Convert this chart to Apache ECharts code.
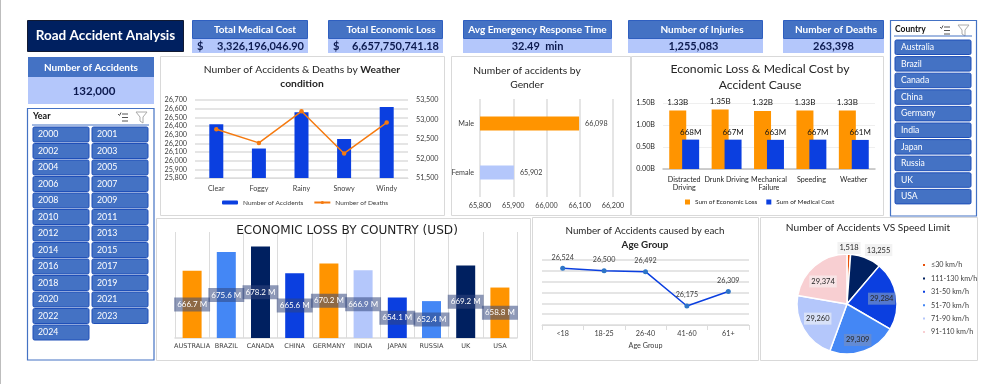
<!DOCTYPE html>
<html><head><meta charset="utf-8">
<style>html,body{margin:0;padding:0;background:#fff}#c{width:1000px;height:384px}</style>
<script src="https://cdn.jsdelivr.net/npm/echarts@6/dist/echarts.min.js"></script>
</head><body><div id="c"></div>
<script>
// ---- data ----
const dashboardTitle = 'Road Accident Analysis';
const kpiLabels = ['Total Medical Cost','Total Economic Loss','Avg Emergency Response Time','Number of Injuries','Number of Deaths'];
const kpiValues = ['3,326,196,046.90','6,657,750,741.18','32.49  min','1,255,083','263,398'];
const accidentsTotal = '132,000';
const years = ['2000','2001','2002','2003','2004','2005','2006','2007','2008','2009','2010','2011','2012','2013','2014','2015','2016','2017','2018','2019','2020','2021','2022','2023','2024'];
const countries = ['Australia','Brazil','Canada','China','Germany','India','Japan','Russia','UK','USA'];
const weatherCats = ['Clear','Foggy','Rainy','Snowy','Windy'];
const weatherAccidents = [26420,26140,26560,26250,26620];
const weatherDeaths = [52750,52400,53210,52130,52920];
const genderCats = ['Female','Male'];
const genderValues = [65902,66098];
const causeCats = ['Distracted\nDriving','Drunk Driving','Mechanical\nFailure','Speeding','Weather'];
const causeEconomic = [1.33e9,1.35e9,1.32e9,1.33e9,1.33e9];
const causeMedical = [668e6,667e6,663e6,667e6,661e6];
const countryCats = ['AUSTRALIA','BRAZIL','CANADA','CHINA','GERMANY','INDIA','JAPAN','RUSSIA','UK','USA'];
const countryLoss = [666.7,675.6,678.2,665.6,670.2,666.9,654.1,652.4,669.2,658.8];
const ageCats = ['<18','18-25','26-40','41-60','61+'];
const ageValues = [26524,26500,26492,26175,26309];
const speedCats = ['≤30 km/h','111-130 km/h','31-50 km/h','51-70 km/h','71-90 km/h','91-110 km/h'];
const speedValues = [1518,13255,29284,29309,29260,29374];

// ---- style ----
const NAVY='#002060',BLUE='#0b3fe0',MID='#4487f5',LIGHT='#b4c7fb',ORANGE='#ff9400',PINK='#f8cfd2';
const HEAD='#4472c4',BTN='#4472c4',BTNB='#1f4fb8',GRID='#dcdcdc',TXT='#404040',F='Lato';
const countryColors=[ORANGE,MID,NAVY,BLUE,ORANGE,LIGHT,BLUE,MID,NAVY,ORANGE];
const speedColors=['#e8500a',NAVY,BLUE,MID,LIGHT,PINK];

const g=[];
const rect=(x,y,w,h,fill,stroke,lw,r)=>g.push({type:'rect',z:0,shape:{x,y,width:w,height:h,r:r||0},style:{fill:fill||'transparent',stroke:stroke||null,lineWidth:lw||1}});
const text=(x,y,s,o)=>g.push({type:'text',z:1,x,y,style:Object.assign({text:s,fontFamily:F,fontSize:11,fill:TXT,align:'center',verticalAlign:'middle'},o||{})});
const line=(x1,y1,x2,y2,c,lw)=>g.push({type:'line',z:1,shape:{x1,y1,x2,y2},style:{stroke:c,lineWidth:lw||1}});

rect(0,0,1,384,'#bdbdbd');
// header
rect(27.5,20.5,156,31,NAVY,'#111a33',1);
text(105.5,36,dashboardTitle,{fill:'#fff',fontSize:13.5,fontWeight:'bold'});
const kpiBoxes=[[192,116],[328,115],[463,149],[628,135],[783,101]];
const kpiLabelX=[255,391,537.5,702,836];
kpiLabels.forEach((l,i)=>{
  const [x,w]=kpiBoxes[i];
  rect(x,39,w,14,LIGHT);
  rect(x+.5,20.5,w-1,18,HEAD,'#2f5fc0',1);
  text(kpiLabelX[i],29.5,l,{fill:'#fff',fontSize:10,fontWeight:'bold'});
  const vs={fill:'#0c1a4f',fontSize:11,fontWeight:'bold'};
  if(i<2){text(x+5,46.5,'$',Object.assign({},vs,{align:'left'}));
    text(x+w-4,46.5,kpiValues[i],Object.assign({},vs,{align:'right'}));}
  else text(x+w/2-(i==3?2:0),46.5,kpiValues[i],vs);
});
rect(28,77,126,27,LIGHT);
rect(28,57,126,20,HEAD);
text(91,67.5,'Number of Accidents',{fill:'#fff',fontSize:10,fontWeight:'bold'});
text(94,91,accidentsTotal,{fill:'#0c1a4f',fontSize:11.5,fontWeight:'bold'});

// panels
[[160.5,56.5,284,159],[451.5,56.5,179,159],[631.5,56.5,252,159],[156.5,218.5,374,142],[532.5,217.5,226,143],[760.5,217.5,217,143]]
 .forEach(p=>rect(p[0],p[1],p[2],p[3],'#fff','#d9d9d9',1));

// slicers
function icons(x,y){
  [0,3.5,7].forEach(d=>{line(x+4,y+d,x+10,y+d,'#555',1);});
  g.push({type:'polyline',z:1,shape:{points:[[x,y],[x+1.5,y+1.5],[x+3,y-1.5]]},style:{stroke:'#555',fill:null}});
  g.push({type:'polyline',z:1,shape:{points:[[x+18,y-2],[x+29,y-2],[x+25,y+3],[x+25,y+9],[x+22,y+7],[x+22,y+3],[x+18,y-2]]},style:{stroke:'#aaa',fill:null}});
}
rect(27.5,108.5,126.5,251.5,'#fff',HEAD,1.2);
text(33,116,'Year',{fontWeight:'bold',fontSize:9,fill:'#111',align:'left'});
icons(118,114);
line(32,125,149,125,HEAD,1);
years.forEach((y,i)=>{
  const c=i%2,r=(i-c)/2,x=c?92:33,yy=127+r*16.5;
  rect(x,yy,56,15,BTN,BTNB,1,1.5);
  text(x+5,yy+7.5,y,{fill:'#fff',fontSize:8.8,align:'left'});
});
rect(890.5,20.5,86,195.5,'#fff',HEAD,1.2);
text(895,29,'Country',{fontWeight:'bold',fontSize:8.5,fill:'#111',align:'left'});
icons(940,27);
line(894,36,972,36,HEAD,1);
countries.forEach((n,i)=>{
  const yy=40+i*16.6;
  rect(895,yy,76,14.5,BTN,BTNB,1,1.5);
  text(901,yy+7.3,n,{fill:'#fff',fontSize:8.6,align:'left'});
});

const axisText={fontFamily:F,fontSize:7.2,color:TXT};
const spl={show:true,lineStyle:{color:GRID,width:1.5}};
const bM=v=>(v/1e6).toFixed(0)+'M';
const bB=v=>(v/1e9).toFixed(2)+'B';
const ttl=(x,y,t,size,extra)=>({text:t,left:x,top:y,textAlign:'center',padding:0,
  textStyle:Object.assign({fontFamily:F,fontSize:size,fontWeight:'normal',color:'#262626',lineHeight:14,
   rich:{b:{fontFamily:F,fontSize:size,fontWeight:'bold',color:'#262626',lineHeight:14}}},extra||{})});

const option={
 animation:false,backgroundColor:'#fff',
 graphic:{elements:g},
 title:[
  ttl(302,63,'Number of Accidents & Deaths by {b|Weather}\n{b|condition}',10.3),
  ttl(527,64,'Number of accidents by\nGender',10.3),
  ttl(760,61,'Economic Loss & Medical Cost by\nAccident Cause',12.2,{lineHeight:16}),
  ttl(347,224,'ECONOMIC LOSS BY COUNTRY (USD)',12.1,{fontFamily:'DejaVu Sans',fontWeight:'500',color:'#1f1f1f'}),
  ttl(645,224,'Number of Accidents caused by each\n{b|Age Group}',9.8),
  ttl(868,221,'Number of Accidents VS Speed Limit',10.2)
 ],
 grid:[
  {left:195,top:100,width:213,height:78},
  {left:480,top:99,width:133,height:98},
  {left:663,top:103,width:212,height:66},
  {left:175,top:232,width:342,height:106},
  {left:542,top:260,width:207,height:65}
 ],
 legend:[
  {data:['Number of Accidents','Number of Deaths'],left:222,top:199,padding:0,itemWidth:16,itemHeight:4,itemGap:10,textStyle:Object.assign({},axisText,{fontSize:6.5})},
  {data:['Sum of Economic Loss','Sum of Medical Cost'],left:685,top:199,padding:0,itemWidth:5,itemHeight:5,itemGap:9,icon:'rect',textStyle:Object.assign({},axisText,{fontSize:6.4,color:'#262626'})},
  {data:speedCats,orient:'vertical',left:921,top:260,padding:0,itemWidth:4,itemHeight:4,itemGap:3.4,icon:'rect',textStyle:Object.assign({},axisText,{lineHeight:10})}
 ],
 xAxis:[
  {gridIndex:0,type:'category',data:weatherCats,axisLine:{lineStyle:{color:GRID}},axisTick:{lineStyle:{color:GRID}},axisLabel:Object.assign({},axisText,{margin:7})},
  {gridIndex:1,type:'value',min:65800,max:66200,interval:100,axisLine:{show:false},axisTick:{show:false},splitLine:spl,axisLabel:Object.assign({},axisText,{margin:5,formatter:v=>v.toLocaleString('en-US')})},
  {gridIndex:2,type:'category',data:causeCats,axisLine:{lineStyle:{color:'#bfbfbf',width:1.5}},axisTick:{show:false},axisLabel:Object.assign({},axisText,{color:'#262626',lineHeight:8.5,margin:6,interval:0})},
  {gridIndex:3,type:'category',data:countryCats,axisLine:{lineStyle:{color:GRID,width:1.5}},axisTick:{show:false},splitLine:{show:true,lineStyle:{color:GRID,width:1}},axisLabel:Object.assign({},axisText,{fontFamily:'DejaVu Sans',fontSize:6.5,interval:0,margin:5})},
  {gridIndex:4,type:'category',data:ageCats,axisLine:{show:true,lineStyle:{color:GRID}},axisTick:{show:true,lineStyle:{color:GRID}},axisLabel:Object.assign({},axisText,{margin:5}),name:'Age Group',nameLocation:'middle',nameGap:17,nameTextStyle:axisText}
 ],
 yAxis:[
  {gridIndex:0,type:'value',min:25800,max:26700,interval:100,axisLine:{show:false},axisTick:{show:false},splitLine:spl,axisLabel:Object.assign({},axisText,{margin:8,formatter:v=>v.toLocaleString('en-US')})},
  {gridIndex:0,type:'value',position:'right',min:51500,max:53500,interval:500,axisLine:{show:false},axisTick:{show:false},splitLine:{show:false},axisLabel:Object.assign({},axisText,{margin:8,formatter:v=>v.toLocaleString('en-US')})},
  {gridIndex:1,type:'category',data:genderCats,axisLine:{show:false},axisTick:{show:false},axisLabel:Object.assign({},axisText,{margin:6})},
  {gridIndex:2,type:'value',min:0,max:1.5e9,interval:0.5e9,axisLine:{show:false},axisTick:{show:false},splitLine:{show:true,lineStyle:{color:'#efefef'}},axisLabel:Object.assign({},axisText,{color:'#262626',margin:8,formatter:v=>(v/1e9).toFixed(2)+'B'})},
  {gridIndex:3,type:'value',min:635,max:685,show:false,splitLine:{show:false}},
  {gridIndex:4,type:'value',min:26000,max:26600,interval:100,axisLabel:{show:false},axisLine:{show:false},axisTick:{show:false},splitLine:spl}
 ],
 series:[
  {name:'Number of Accidents',type:'bar',xAxisIndex:0,yAxisIndex:0,data:weatherAccidents,barWidth:14,itemStyle:{color:BLUE}},
  {name:'Number of Deaths',type:'line',xAxisIndex:0,yAxisIndex:1,data:weatherDeaths,symbol:'circle',symbolSize:4.5,lineStyle:{color:'#f57a10',width:1.5},itemStyle:{color:'#f57a10'}},
  {name:'Gender',type:'bar',xAxisIndex:1,yAxisIndex:2,barWidth:14,
   data:genderValues.map((v,i)=>({value:v,itemStyle:{color:i?ORANGE:LIGHT}})),
   label:{show:true,position:'right',distance:6,fontFamily:F,fontSize:7.2,color:TXT,formatter:p=>p.value.toLocaleString('en-US')}},
  {name:'Sum of Economic Loss',type:'bar',xAxisIndex:2,yAxisIndex:3,data:causeEconomic,barWidth:17,barGap:'-24%',itemStyle:{color:ORANGE},
   label:{show:true,position:'top',distance:4,fontFamily:F,fontSize:8,color:'#111',formatter:p=>bB(p.value)}},
  {name:'Sum of Medical Cost',type:'bar',xAxisIndex:2,yAxisIndex:3,data:causeMedical,barWidth:17,itemStyle:{color:BLUE},
   label:{show:true,position:'top',distance:3,fontFamily:F,fontSize:8,color:'#111',formatter:p=>bM(p.value)}},
  {name:'Country',type:'bar',xAxisIndex:3,yAxisIndex:4,barWidth:19,
   data:countryLoss.map((v,i)=>({value:v,itemStyle:{color:countryColors[i]}})),
   label:{show:true,position:'inside',fontFamily:F,fontSize:8,color:'#fff',backgroundColor:'rgba(50,70,125,0.55)',padding:[3,3],formatter:p=>p.value.toFixed(1)+' M'}},
  {name:'Age',type:'line',xAxisIndex:4,yAxisIndex:5,data:ageValues,symbol:'circle',symbolSize:5,lineStyle:{color:BLUE,width:1.5},itemStyle:{color:'#2e75c6'},
   label:{show:true,position:'top',distance:5,fontFamily:F,fontSize:7.2,color:TXT,formatter:p=>p.value.toLocaleString('en-US')}},
  {name:'Speed',type:'pie',center:[847,304],radius:[0,50],startAngle:90,
   data:speedCats.map((n,i)=>({name:n,value:speedValues[i],itemStyle:{color:speedColors[i]},
     label:{backgroundColor:i<2?'#f2f2f2':(i==2||i==3?'rgba(110,140,200,0.75)':'rgba(245,245,245,0.55)')}})),
   itemStyle:{borderColor:'#fff',borderWidth:1.5},
   label:{position:'inside',fontFamily:F,fontSize:7.5,color:'#262626',padding:[2,2],formatter:p=>p.value.toLocaleString('en-US')},
   labelLine:{show:false},
   labelLayout:p=>{
     const cx=p.labelRect.x+p.labelRect.width/2, cy=p.labelRect.y+p.labelRect.height/2;
     if(p.dataIndex===0) return {dx:1,dy:-28};
     if(p.dataIndex===1) return {dx:21,dy:-28};
     if(p.dataIndex===4) return {dx:(cx-847)*0.33+3,dy:(cy-304)*0.33-4};
     if(p.dataIndex===5) return {dx:(cx-847)*0.33,dy:(cy-304)*0.33+6};
     return {dx:(cx-847)*0.33-2,dy:(cy-304)*0.33+1};
   }}
 ]
};
echarts.init(document.getElementById('c'),null,{renderer:'canvas'}).setOption(option);
</script></body></html>
